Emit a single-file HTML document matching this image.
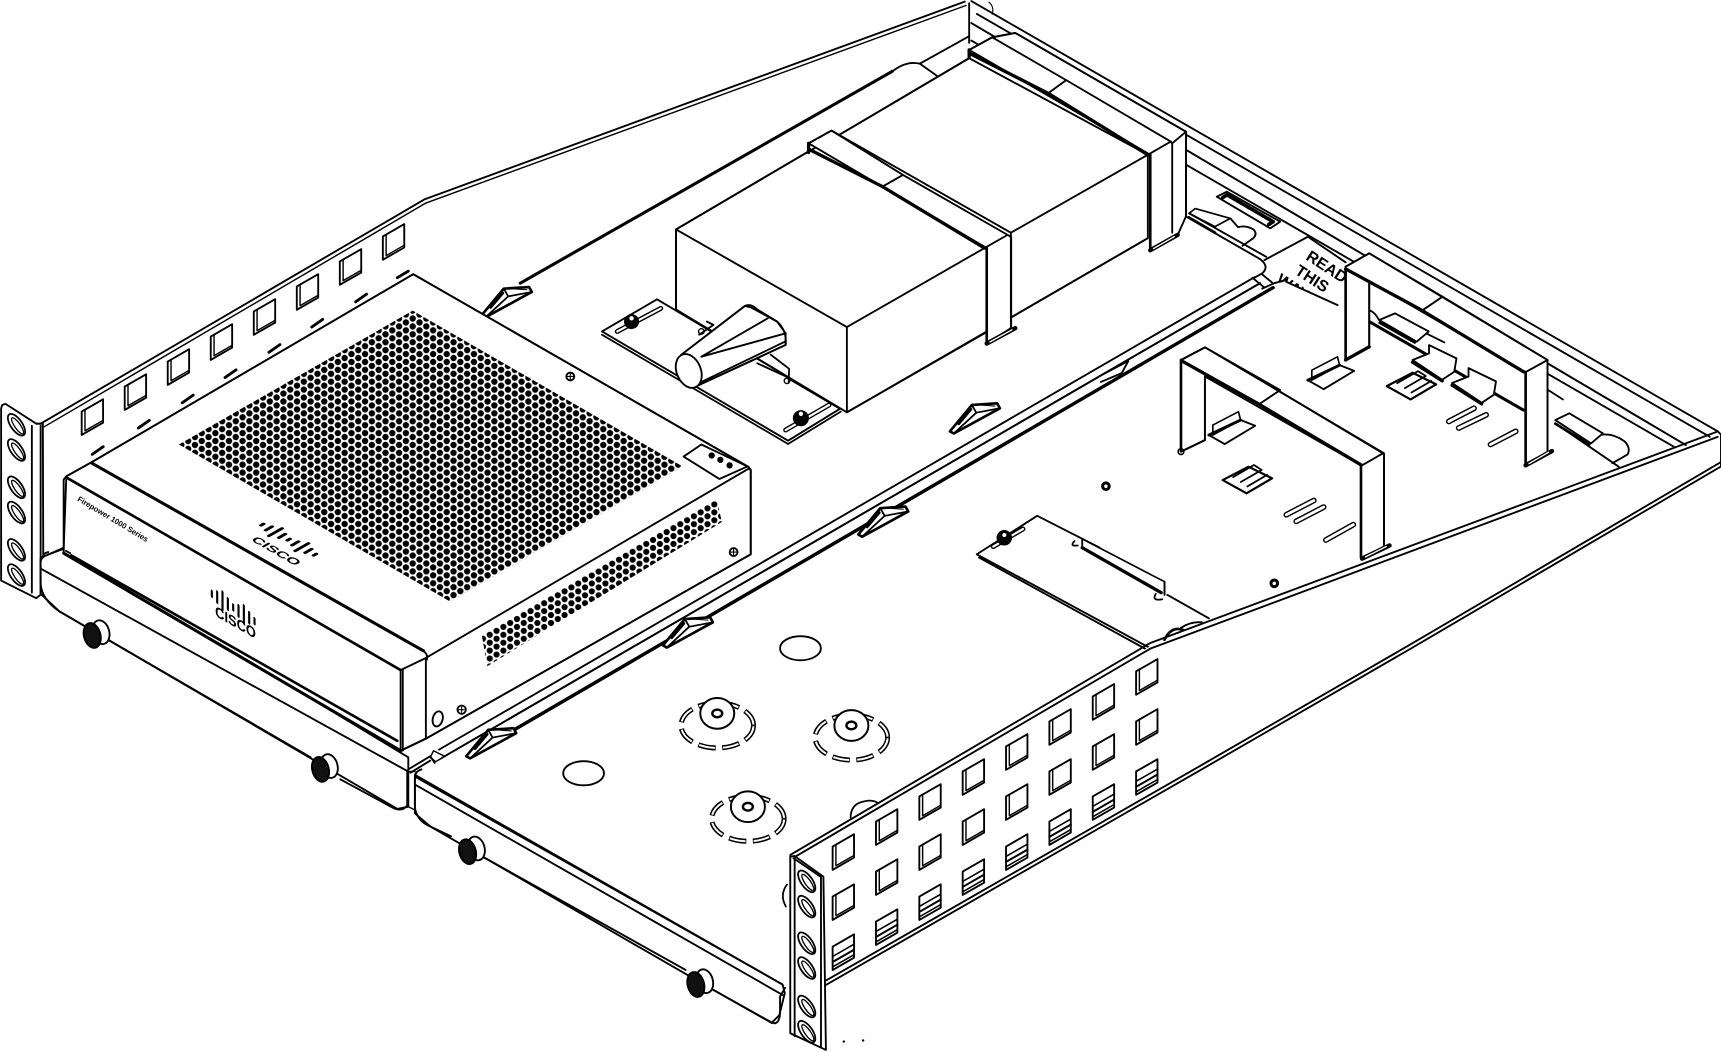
<!DOCTYPE html>
<html><head><meta charset="utf-8"><title>Rack tray diagram</title>
<style>html,body{margin:0;padding:0;background:#fff;width:1721px;height:1052px;overflow:hidden}svg{display:block}text{font-family:"Liberation Sans",sans-serif;font-weight:bold;fill:#000;stroke:none}</style></head>
<body>
<svg xmlns="http://www.w3.org/2000/svg" width="1721" height="1052" viewBox="0 0 1568 958.5">
<defs>
<pattern id="dots" patternUnits="userSpaceOnUse" width="12.4" height="7.2" patternTransform="translate(376 283)">
<circle cx="0" cy="0" r="2.9"/><circle cx="12.4" cy="0" r="2.9"/><circle cx="0" cy="7.2" r="2.9"/><circle cx="12.4" cy="7.2" r="2.9"/><circle cx="6.2" cy="3.6" r="2.9"/>
</pattern>
<pattern id="vent" patternUnits="userSpaceOnUse" width="12.4" height="7.2" patternTransform="translate(440 582)">
<circle cx="0" cy="0" r="2.8"/><circle cx="12.4" cy="0" r="2.8"/><circle cx="0" cy="7.2" r="2.8"/><circle cx="12.4" cy="7.2" r="2.8"/><circle cx="6.2" cy="3.6" r="2.8"/>
</pattern>
<g id="sq"><polygon points="0,0 19.5,-11.2 19.5,10.1 0,21.3" fill="#fff"/><polyline points="3,-1.5 3,17.5 19.5,8" stroke-width="1.3"/></g>
<g id="sqc"><polygon points="0,0 19.5,-11.2 19.5,10.1 0,21.3" fill="#fff"/><path d="M0 9 19.5 -2.2M0 18.5 19.5 7.3" stroke-width="1.4"/><path d="M0 14 19.5 2.8" stroke-width="1.8"/></g>
<g id="clip"><polygon points="0,0 20,-24 43,-25.5 45.5,-21 3.5,2" fill="#fff" stroke-width="2.4"/><path d="M20 -24 24 -17 45.5 -21M24 -17 3.5 2" stroke-width="1.6"/><path d="M8 -7 19 -20" stroke-width="2.6"/><path d="M27 -24 41 -23" stroke-width="1"/></g>
<g id="lug"><polygon points="0,0 14.4,8.2 42.2,-8.5 28.9,-13.7" fill="#fff"/><polygon points="3.6,0 3.6,-9.1 27,-21.3 28.9,-13.7" fill="#fff" stroke-width="1.5"/><path d="M0 0 28.9 -13.7" stroke-width="2.6"/></g>
<g id="frame"><polygon points="0,0 21.5,10.6 -1.8,24.3 -23.5,12.2" fill="#fff" stroke-width="2"/><path d="M-14 9.5 5 -1.5L12 3M-7 14 12 3M-1 18 17 7.5" stroke-width="1.6"/></g>
<g id="hub"><ellipse cx="0" cy="11" rx="33" ry="20.5" fill="#fff" stroke="none"/><ellipse cx="0" cy="11" rx="33" ry="20.5" stroke-width="4.6" stroke-dasharray="16 6" stroke-linecap="butt"/><ellipse cx="0" cy="11" rx="33" ry="20.5" stroke="#fff" stroke-width="1.8" stroke-dasharray="14.5 7.5" stroke-dashoffset="-.75" stroke-linecap="butt"/><ellipse cx="0" cy="0" rx="15.5" ry="14" fill="#fff" stroke-width="1.8"/><ellipse cx="0" cy="0" rx="4.5" ry="3.5" stroke-width="2.2"/></g>
<g id="knob"><ellipse cx="8" cy="-3" rx="7.5" ry="11" fill="#fff" transform="rotate(-15 8 -3)"/><ellipse cx="0" cy="0" rx="7.5" ry="11.5" fill="#111" transform="rotate(-15)"/></g>
<g id="hole"><ellipse cx="0" cy="0" rx="5.2" ry="11.5" transform="rotate(-35)" fill="#fff" stroke-width="1.6"/><ellipse cx="1" cy="1" rx="2.6" ry="8.8" transform="rotate(-35 1 1)" stroke-width="1.2"/></g>
</defs>

<g fill="none" stroke="#000" stroke-width="1.7" stroke-linejoin="round" stroke-linecap="round">
<!-- top-left wall -->
<path d="M37 386 387 181.5 879 1.5" />
<path d="M40 389 388 185 880 5" stroke-width="1.3"/>
<path d="M883 3V39" />
<path d="M901 2Q906 6 904 13" stroke-width="1"/>
<g>
<use href="#sq" x="74.4" y="375"/><use href="#sq" x="113.6" y="352.2"/><use href="#sq" x="152.8" y="329.4"/><use href="#sq" x="192" y="306.6"/><use href="#sq" x="231.2" y="283.8"/><use href="#sq" x="270.4" y="261"/><use href="#sq" x="309.6" y="238.2"/><use href="#sq" x="348.8" y="215.4"/>
</g>
<!-- back wall -->
<path d="M885 1 1565 393"/>
<path d="M890 12.7 1557.8 398"/>
<path d="M885 21 1536 405.5" stroke-width="1.8"/>
<path d="M885 37 1525 407"/>
<!-- upper plate -->
<path d="M474 258 813 65" stroke-width="2.8"/>
<path d="M813 65Q826 55 838 58L883 33M838 58 855 70 883 53"/>
<path d="M1080 197 1148 236Q1157 243 1150 249L1143 253"/>
<!-- bottom-plate screw plate -->
<polygon points="548.5,302 598.6,272.7 766,372 718,401.5" fill="#fff"/>
<path d="M548.5 305 718 404.5 766 375" stroke-width="1.6"/>
<path d="M562.4 302 602 281" stroke-width="4.5"/><path d="M562.4 302 602 281" stroke="#fff" stroke-width="2"/>
<path d="M715.8 391.8 755.3 369" stroke-width="4.5"/><path d="M715.8 391.8 755.3 369" stroke="#fff" stroke-width="2"/>
<circle cx="575.4" cy="293" r="6" fill="#000"/><circle cx="729.7" cy="381" r="6.5" fill="#000"/>
<circle cx="575.4" cy="290" r="2.5" fill="#fff" stroke-width="1"/><circle cx="729.7" cy="377" r="2.5" fill="#fff" stroke-width="1"/>
<!-- battery block -->
<polygon points="615.9,209 736.7,138 767,121.5 883,53 1045.8,141 1045.8,217 771.6,375.7 615.9,282" fill="#fff" />
<path d="M615.9 282V209L736.7 138M767 121.5 883 53M615.9 209 771.6 298 897 226M771.6 298V375.7L897 303.7M922.6 288.5 1045.8 217M920 212.6 1045.8 141"/>
<!-- strap 1 -->
<polygon points="736.7,130.6 757.6,119 921,212 921,299 899,313 899,226" fill="#fff"/>
<path d="M736.7 130.6 757.6 119 822.7 159.4 804 170M822.7 159.4 918 214"/>
<path d="M736.7 130.6V139M737 136 804 170 897 226" stroke-width="3"/>
<path d="M897 226 918 214 921.3 216V298M899 226V312" /><path d="M899 226V312" stroke-width="2.4"/>
<path d="M899 313 925 299" stroke-width="4"/><path d="M902 311.5 922 300.5" stroke="#fff" stroke-width="1.2"/>
<!-- strap 2 -->
<polygon points="883,45.5 904,34 925,30 1080.6,120 1080.6,197 1073,214 1048,228 1048,141" fill="#fff"/>
<path d="M883 45.5 904 34 971.4 73 955 85M971.4 73 1066.7 129M925 30 1080.6 120V197M904 34 925 30"/>
<path d="M883 45.5V52M884 49 955 85 1045.8 141" stroke-width="3"/>
<path d="M1045.8 141 1066.7 129 1068 131V212M1080.6 120 1068 130.6"/>
<path d="M1048 141V227" stroke-width="2.4"/>
<path d="M1048 228 1073 214" stroke-width="4"/><path d="M1051 226.5 1070 215.5" stroke="#fff" stroke-width="1.2"/>
<!-- cone -->
<path d="M616 282 641 297.6M690 331 716 343M718 344.7 764.6 372" />
<path d="M702 323 719 336 718.5 348" stroke-width="1.6"/><circle cx="717" cy="347" r="2.5" stroke-width="1.3"/>
<path d="M644 293 650 296 637 305" /><circle cx="639" cy="302" r="2.5" stroke-width="1.3"/>
<polygon points="620.5,323.4 678.6,278.8 684,280 708,293 715.8,303.7 715.8,314.3 636.8,350.8" fill="#fff"/>
<path d="M620.5 323.4 678.6 278.8Q684 276 690 282L708 293Q717 301 715.8 314.3L636.8 350.8M639 325 699.5 290M639 325 715.8 303.7M639 348 715.8 311"/>
<ellipse cx="627.5" cy="338" rx="11" ry="16" transform="rotate(-22 627.5 338)" fill="#fff"/>
<!-- rail -->
<path d="M400 683 1143 252.5"/>
<path d="M400 692 1148 258"/>
<path d="M470 664 1160 262" stroke-width="3"/>
<path d="M1152 262 1141 253M1162 260 1150 250" />
<path d="M1005 341 1028 329 1022 340 1003 348" fill="#fff"/>
<use href="#clip" x="865.5" y="393"/><use href="#clip" x="439" y="287"/>
<!-- back details -->
<polygon points="1108.6,179.2 1117.7,174.7 1166.4,202 1157.3,208" fill="#fff"/>
<path d="M1114 180 1118 177.5 1160 202 1156 204.5" stroke-width="3.4" stroke-dasharray="6 1.5"/>
<path d="M1083.4 194.4 1089 190 1121 199 1107 206.5Z" fill="#fff" stroke-width="1.5"/>
<path d="M1083 198 1107 212" stroke-width="2.4"/>
<path d="M1121 199 1128 207Q1135 205 1142 209Q1146 213 1142 217L1132 224"/>
<path d="M1152 237 1191.6 215.7M1191.6 215.7 1226 239"/>
<path d="M1083.4 194.4 1153.7 234"/>
<!-- read text -->
<text x="1189" y="236" font-size="14.5" transform="rotate(33 1189 236)">READ</text>
<text x="1179" y="249" font-size="14.5" transform="rotate(33 1179 249)">THIS</text>
<text x="1162" y="257" font-size="14.5" transform="rotate(33 1162 257)">WAY</text>
<!-- second plate -->
<polygon points="1145,268 1161,258 1171.8,256.7 1218.7,278 1247,293 1388,373.6 1474.8,425.2 1045,590 400,900 400,720" fill="#fff" stroke="none"/>
<path d="M1150 263 1161 258 1172 255"/>
<path d="M1171.8 256.7 1218.7 278" />
<path d="M1247.5 293 1388 373.6" stroke-width="2.8"/>
<path d="M1245 282Q1252 283 1256 291" />
<path d="M1417 385.7 1474.8 425.2" />
<path d="M1410 355 1424 364"/>
<path d="M400 692 1148 258" />
<path d="M470 664 1160 262" stroke-width="3"/>
<!-- rail clips -->
<use href="#clip" x="424.8" y="689"/><use href="#clip" x="604" y="588"/><use href="#clip" x="782" y="487"/>
<!-- lugs and slots -->
<use href="#lug" x="1101.4" y="396.4"/><use href="#lug" x="1191.6" y="346.4"/>
<use href="#frame" x="1137.5" y="425.2"/><use href="#frame" x="1287" y="339.6"/>
<g stroke-width="5.2"><path d="M1172 469 1197 456M1181 475 1206 462M1208 492 1233 478M1320 384 1343 372M1329 390 1354 378M1358 405 1381 393"/></g>
<g stroke="#fff" stroke-width="2.6"><path d="M1172 469 1197 456M1181 475 1206 462M1208 492 1233 478M1320 384 1343 372M1329 390 1354 378M1358 405 1381 393"/></g>
<circle cx="1007.6" cy="443" r="3" stroke-width="2.8"/><circle cx="1161" cy="531.5" r="3" stroke-width="2.8"/>
<!-- notched boards -->
<path d="M1287 328 1302 322V314.4L1327 326.5 1325 338.7 1314 346 1287 328Z" fill="#fff"/>
<path d="M1287 330 1314 347" stroke-width="3"/>
<path d="M1323 349 1338 343V335.4L1363 347.5 1361 359.7 1350 367 1323 349Z" fill="#fff"/>
<path d="M1323 351 1350 368" stroke-width="3"/>
<!-- connectors -->
<path d="M1256.6 291.6 1271 285.5 1301.7 302 1290.8 311.3Z" fill="#fff"/>
<path d="M1257 294 1289 312" stroke-width="2.4"/>
<path d="M1300 304 1316 312"/>
<path d="M1417 382.7 1429.8 376.6 1460.4 394.8 1449.6 404Z" fill="#fff"/>
<path d="M1417 386 1448 405" stroke-width="2.4"/>
<path d="M1460 396Q1470 395 1480 402Q1486 408 1483 414L1469 422"/>
<!-- strap 3 -->
<polygon points="1226,243 1247.5,230.8 1410,328 1410,411.5 1390,423.7 1390,339 1247.5,256 1247.5,316 1226,328" fill="#fff"/>
<path d="M1226 243 1247.5 230.8 1314.3 270.3 1296.3 282.5M1314.3 270.3 1410 328V411.5M1390 339 1410 328"/>
<path d="M1226 245 1296 283 1388 338.7" stroke-width="3"/>
<path d="M1226 246V328" stroke-width="2.4"/><path d="M1247.5 256V316"/>
<path d="M1226 328 1247.5 316" stroke-width="3"/>
<path d="M1390 339V423" stroke-width="2.4"/>
<path d="M1390 424 1414 411" stroke-width="4"/><path d="M1393 422.5 1411 412" stroke="#fff" stroke-width="1.2"/>
<!-- strap 4 -->
<polygon points="1076,328 1097.8,316.5 1261,413 1261,498 1240,509 1240,424 1097.8,343 1097.8,401 1076,411.5" fill="#fff"/>
<path d="M1076 328 1097.8 316.5 1166.4 355.4 1148.3 367.5M1166.4 357 1260 413 1261 414V497M1241 424 1260 413"/>
<path d="M1078 329.5 1148.3 369 1240.3 423.7" stroke-width="3"/>
<path d="M1076 328V411" stroke-width="2.4"/><path d="M1097.8 343V401L1076 411.5" />
<circle cx="1076" cy="411.5" r="2.6" stroke-width="1.5"/>
<path d="M1240 424V508" stroke-width="2.4"/>
<path d="M1241 509 1266 497" stroke-width="4"/><path d="M1244 507.5 1263 498" stroke="#fff" stroke-width="1.2"/>
<!-- lower screw plate -->
<polygon points="890,505 945,470 1101.4,563.4 1047,590" fill="#fff" stroke="none"/>
<path d="M945 470 1002 499M890 505 945 470" />
<path d="M890 505 1047 590M892 508 1045 592" stroke-width="1.7"/>
<path d="M1063.5 542 1101.4 563.4"/>
<path d="M986 491 1061 530 1061 542" stroke-width="1.5"/>
<path d="M986 499 1058 540" stroke-width="3"/>
<path d="M986 491V498M1061 530V542"/>
<path d="M905 498 932 482" stroke-width="4.5"/><path d="M905 498 932 482" stroke="#fff" stroke-width="2"/>
<circle cx="915" cy="490" r="6.2" fill="#000"/><circle cx="915" cy="487.5" r="2.4" fill="#fff" stroke-width="1"/>
<path d="M979 493Q974 498 982 497M1053 541Q1049 548 1059 546" stroke-width="1.6"/>
<!-- center plate -->
<ellipse cx="729.3" cy="590.6" rx="18.6" ry="11" fill="#fff"/>
<ellipse cx="531.7" cy="704.5" rx="18.6" ry="11" fill="#fff"/>
<use href="#hub" x="653.5" y="650"/><use href="#hub" x="775.7" y="661"/><use href="#hub" x="681.4" y="735"/>
<!-- left ear -->
<path d="M37 510Q37 505 44 503" />
<polygon points="2,369 5,368 33,386 39,386 39.5,540 33,545 1,529 1,372" fill="#fff"/>
<path d="M29 388V540M37 388V541M33 386 37 386"/>
<use href="#hole" x="15" y="387"/><use href="#hole" x="15" y="410"/><use href="#hole" x="15" y="444"/><use href="#hole" x="15" y="467"/><use href="#hole" x="15" y="501"/><use href="#hole" x="15" y="524"/>
<!-- left shelf plate -->
<polygon points="37,508 58,500 372,690 372,735 362,737 54,557 37,541" fill="#fff"/>
<path d="M37 515Q36 510 40 507L58 499M37 518 372 703M37 515V532Q38 546 54 557L283 690M310 710 358 736Q366 740 371 734"/>
<use href="#knob" x="84" y="579"/><use href="#knob" x="292" y="701"/>
<!-- box -->
<polygon points="376.5,249.8 682,425.4 684,428 684,505 388,673 365,684 58,504 58,500 60.4,434 83.7,421" fill="#fff"/>
<path d="M83.7 421 376.5 249.8 682 425.4"/>
<g stroke-width="2.6"><path d="M84 414 94 407M126 390 136 383M166 367 176 360M205 344 215 337M245 321 255 314M284 298 294 291M324 275 334 268M362 253 372 247"/></g>
<polygon points="376,283 163,405 410,548 622,425" fill="url(#dots)" stroke="none"/>
<path d="M622.8 416 639 405 681 425 655.4 436.4Z" fill="#fff"/>
<circle cx="648.4" cy="415" r="2"  fill="#000"/><circle cx="656.3" cy="419" r="2" fill="#000"/><circle cx="664.7" cy="424" r="2" fill="#000"/>
<path d="M83.7 422 385.8 593" stroke-width="2.8"/>
<path d="M60.4 434 83.7 421"/>
<path d="M60.4 435 365 610.5" stroke-width="2.4"/>
<path d="M60.4 434 58 437V502"/>
<path d="M365 610.5 388 599.5M385.8 593Q390 596 389 601"/>
<path d="M388 601V673M365 610.5V684" />
<path d="M367 610V684" stroke-width="1.6"/>
<path d="M388 599.5 682 427 684 428V505L388 673 365 684"/>
<path d="M58 504 365 684" stroke-width="2.8"/>
<path d="M65 506 362 675" stroke-width="2.4"/>
<path d="M60 502 64 504"/>
<polygon points="439,579 653,455 657.7,475.6 444,607" fill="url(#vent)" stroke="none"/>
<circle cx="519.6" cy="343" r="3.6" stroke-width="1.7"/><path d="M517 343H522M519.6 340.5V345.5" stroke-width="1"/>
<circle cx="668.4" cy="503" r="3.6" stroke-width="1.7"/><path d="M666 503H671M668.4 500.5V505.5" stroke-width="1"/>
<circle cx="420.6" cy="646.6" r="3.8" stroke-width="1.7"/><path d="M418 646.6H423M420.6 644V649" stroke-width="1"/>
<ellipse cx="398.8" cy="655" rx="4.5" ry="7" transform="rotate(15 398.8 655)" stroke-width="1.7"/>
<text x="70" y="456" font-size="7" transform="rotate(31 70 456)">Firepower 1000 Series</text>
<!-- cisco logos -->
<g transform="matrix(1 .57 .87 -.5 239 478)" stroke-width="2.6">
<path d="M0 -1.5V1.5M6 -3.5V3.5M12 -7V7M18 -3.5V3.5M24 -1.5V1.5M30 -3.5V3.5M36 -7V7M42 -3.5V3.5M48 -1.5V1.5"/>
</g>
<text font-size="15" transform="matrix(.87 .5 -.6 .35 228 492)">CISCO</text>
<g transform="matrix(.81 .52 0 1 193 541)" stroke-width="2.4">
<path d="M0 -2.5V2.5M6 -5V5M12 -8V8M18 -5V5M24 -2.5V2.5M30 -5V5M36 -8V8M42 -5V5M48 -2.5V2.5"/>
</g>
<text font-size="13.5" transform="matrix(.87 .5 0 1 196 561)">CISCO</text>
<!-- rail notch -->
<path d="M395 684 405 689 397 694 392 690Z" fill="#fff" stroke-width="1.3"/>
<path d="M372 701 392 689 396 695M374 704 392 693" />
<!-- right plate front -->
<polygon points="378,706 713,897 715,905 710,925 703,932 650,902 392,753 378,741" fill="#fff"/>
<path d="M371 703V734M378 708Q378 703 384 701M378 707.6 713 897M378.3 715 713 906.5M378 708V736Q380 748 392 753L411 762M438.8 780 624.7 883.7M650 902 703.7 932Q710 934 710.7 923V908L715.3 900" />
<path d="M372 703H378M372 735 378 738" stroke-width="1.3"/>
<use href="#knob" x="426" y="776"/><use href="#knob" x="634" y="897"/>
<!-- behind-wall pieces -->
<path d="M775 745Q775 732 788 730Q796 728 802 733" stroke-width="1.6" fill="#fff"/>
<path d="M717 806Q710 815 716 826" stroke-width="1.6" fill="#fff"/>
<path d="M1061 583Q1067 570 1078 574" stroke-width="2.4"/>
<path d="M1076 572Q1085 566 1095 567" stroke-width="1.7"/>
<!-- right wall -->
<polygon points="720,779 1047.7,589 1565,398 1568,425 1283.6,592 1094,701.5 752.5,897.4" fill="#fff" stroke="none"/>
<path d="M720 779 1047.7 586 1564 393.5"/><path d="M722 782 1048 591 1565 398"/>
<path d="M1565 393 1568 396V425"/>
<path d="M752.5 897.4 1094 701.5 1283.6 592 1568 425"/><path d="M752.5 893.4 1094 697.5 1283.6 588 1568 421"/>
<g>
<use href="#sq" x="758.6" y="771.3"/><use href="#sq" x="798.1" y="748.5"/><use href="#sq" x="837.6" y="725.7"/><use href="#sq" x="877.1" y="702.9"/><use href="#sq" x="916.6" y="680.1"/><use href="#sq" x="956.1" y="657.3"/><use href="#sq" x="995.6" y="634.5"/><use href="#sq" x="1035.1" y="611.7"/>
<use href="#sq" x="758.6" y="816.9"/><use href="#sq" x="798.1" y="794.1"/><use href="#sq" x="837.6" y="771.3"/><use href="#sq" x="877.1" y="748.5"/><use href="#sq" x="916.6" y="725.7"/><use href="#sq" x="956.1" y="702.9"/><use href="#sq" x="995.6" y="680.1"/><use href="#sq" x="1035.1" y="657.3"/>
<use href="#sqc" x="758.6" y="862.5"/><use href="#sqc" x="798.1" y="839.7"/><use href="#sqc" x="837.6" y="816.9"/><use href="#sqc" x="877.1" y="794.1"/><use href="#sqc" x="916.6" y="771.3"/><use href="#sqc" x="956.1" y="748.5"/><use href="#sqc" x="995.6" y="725.7"/><use href="#sqc" x="1035.1" y="702.9"/>
</g>
<!-- right ear -->
<polygon points="720,780.4 724,780 750.2,798.7 752.5,956.6 720,941.4" fill="#fff"/>
<path d="M723 782 748 799V954M724 780V944"/>
<use href="#hole" x="735" y="803"/><use href="#hole" x="735" y="826"/><use href="#hole" x="735" y="859.4"/><use href="#hole" x="735" y="882"/><use href="#hole" x="735" y="917"/><use href="#hole" x="735" y="940"/>
<circle cx="768.8" cy="949" r=".8" fill="#000" stroke-width=".6"/><circle cx="786.4" cy="948" r=".8" fill="#000" stroke-width=".6"/>
</g>
</svg>
</body></html>
